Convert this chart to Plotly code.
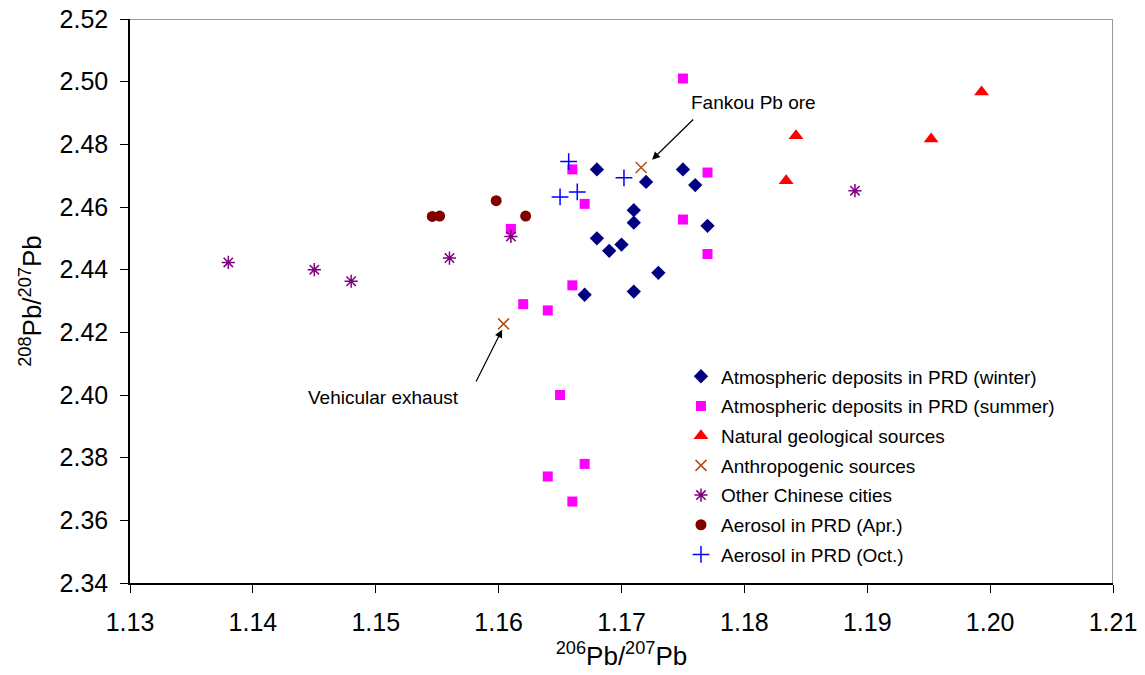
import plotly.graph_objects as go

# Data
winter_x = [1.168, 1.172, 1.175, 1.176, 1.171, 1.171, 1.177, 1.168, 1.170, 1.169, 1.173, 1.167, 1.171]
winter_y = [2.472, 2.468, 2.472, 2.467, 2.459, 2.455, 2.454, 2.450, 2.448, 2.446, 2.439, 2.432, 2.433]

summer_x = [1.175, 1.166, 1.177, 1.167, 1.175, 1.161, 1.177, 1.166, 1.162, 1.164, 1.165, 1.167, 1.164, 1.166]
summer_y = [2.501, 2.472, 2.471, 2.461, 2.456, 2.453, 2.445, 2.435, 2.429, 2.427, 2.400, 2.378, 2.374, 2.366]

natural_x = [1.1834, 1.1842, 1.1952, 1.1993]
natural_y = [2.4684, 2.4827, 2.4817, 2.4967]

anthro_x = [1.1716, 1.1604]
anthro_y = [2.4726, 2.4227]

cities_x = [1.138, 1.145, 1.148, 1.156, 1.161, 1.189]
cities_y = [2.4423, 2.4400, 2.4363, 2.4437, 2.4506, 2.4652]

apr_x = [1.1546, 1.1552, 1.1598, 1.1622]
apr_y = [2.4570, 2.4571, 2.4620, 2.4571]

oct_x = [1.1657, 1.1664, 1.1650, 1.1702]
oct_y = [2.4745, 2.4648, 2.4632, 2.4693]

x_ticks = [1.13, 1.14, 1.15, 1.16, 1.17, 1.18, 1.19, 1.20, 1.21]
y_ticks = [2.34, 2.36, 2.38, 2.40, 2.42, 2.44, 2.46, 2.48, 2.50, 2.52]

FONT = "Liberation Sans, Arial, sans-serif"

fig = go.Figure()

series = [
    ("Atmospheric deposits in PRD (winter)", winter_x, winter_y,
     dict(symbol="diamond", size=11, color="#000080")),
    ("Atmospheric deposits in PRD (summer)", summer_x, summer_y,
     dict(symbol="square", size=10, color="#FF00FF")),
    ("Natural geological sources", natural_x, natural_y,
     dict(symbol="triangle-up", size=13, color="#FF0000")),
    ("Anthropogenic sources", anthro_x, anthro_y,
     dict(symbol="x-thin-open", size=11, color="#B0501A", line=dict(width=1.5, color="#B0501A"))),
    ("Other Chinese cities", cities_x, cities_y,
     dict(symbol="asterisk-open", size=11, color="#800080", line=dict(width=1.5, color="#800080"))),
    ("Aerosol in PRD (Apr.)", apr_x, apr_y,
     dict(symbol="circle", size=11, color="#800000")),
    ("Aerosol in PRD (Oct.)", oct_x, oct_y,
     dict(symbol="cross-thin-open", size=12, color="#0000FF", line=dict(width=1.5, color="#0000FF"))),
]

for i, (name, xs, ys, mk) in enumerate(series):
    fig.add_trace(go.Scatter(x=xs, y=ys, mode="markers", name=name, marker=mk,
                             legendgroup=f"g{i}"))

# Gray top and right borders
fig.add_shape(type="line", xref="x", yref="y", x0=1.13, x1=1.21, y0=2.52, y1=2.52,
              line=dict(color="#999999", width=2))
fig.add_shape(type="line", xref="x", yref="y", x0=1.21, x1=1.21, y0=2.34, y1=2.52,
              line=dict(color="#999999", width=2))

# Arrows and labels
fig.add_annotation(x=1.17249, y=2.4751, xref="x", yref="y", ax=42.6, ay=-41.7,
                   axref="pixel", ayref="pixel", text="", showarrow=True,
                   arrowhead=2, arrowsize=1.3, arrowwidth=1.2, arrowcolor="black")
fig.add_annotation(x=1.1755, y=2.4934, xref="x", yref="y", text="Fankou Pb ore",
                   showarrow=False, xanchor="left", yanchor="middle",
                   font=dict(family=FONT, size=19, color="black"))
fig.add_annotation(x=1.16028, y=2.42083, xref="x", yref="y", ax=-26.7, ay=53.3,
                   axref="pixel", ayref="pixel", text="", showarrow=True,
                   arrowhead=2, arrowsize=1.3, arrowwidth=1.2, arrowcolor="black")
fig.add_annotation(x=1.1443, y=2.3991, xref="x", yref="y", text="Vehicular exhaust",
                   showarrow=False, xanchor="left", yanchor="middle",
                   font=dict(family=FONT, size=19, color="black"))

fig.update_xaxes(range=[1.13, 1.21], tickvals=x_ticks,
                 ticktext=[f"{v:.2f}" for v in x_ticks], automargin=False,
                 showgrid=False, zeroline=False, showline=True, linecolor="black",
                 linewidth=1.5, ticks="outside", ticklen=8, tickcolor="black",
                 ticklabelstandoff=8,
                 tickfont=dict(family=FONT, size=25, color="black"),
                 title=dict(text="<sup>206</sup>Pb/<sup>207</sup>Pb",
                            font=dict(family=FONT, size=26, color="black"), standoff=12))
fig.update_yaxes(range=[2.34, 2.52], tickvals=y_ticks,
                 ticktext=[f"{v:.2f}" for v in y_ticks], automargin=False,
                 showgrid=False, zeroline=False, showline=True, linecolor="black",
                 linewidth=1.5, ticks="outside", ticklen=8, tickcolor="black",
                 ticklabelstandoff=7,
                 tickfont=dict(family=FONT, size=25, color="black"),
                 title=dict(text="<sup>208</sup>Pb/<sup>207</sup>Pb",
                            font=dict(family=FONT, size=26, color="black"), standoff=10))

fig.update_layout(
    width=1145, height=675,
    margin=dict(l=130, r=32, t=19, b=92),
    paper_bgcolor="white", plot_bgcolor="white",
    font=dict(family=FONT, color="black"),
    legend=dict(x=0.5605, y=0.40, xanchor="left", yanchor="top",
                font=dict(family=FONT, size=19, color="black"),
                bgcolor="rgba(0,0,0,0)", itemwidth=30, tracegroupgap=2),
)

fig.write_html("out.html", config={"displayModeBar": False},
               post_script="document.body.style.margin='0px';document.body.style.overflow='hidden';")
